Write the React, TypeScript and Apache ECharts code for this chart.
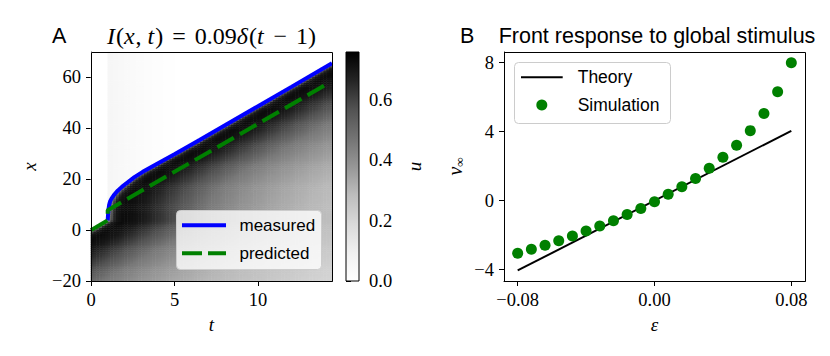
import React, { useEffect, useRef } from 'react';
import * as echarts from 'echarts';

// ---------------- Panel A: front trajectory ----------------
const measuredT = [1.0, 1.02, 1.05, 1.09, 1.15, 1.25, 1.4, 1.6, 1.85, 2.1, 2.6, 3.1, 4.1, 5.0, 6.5, 8.0, 10.0, 12.0, 14.43];
const measuredX = [3.8, 6.0, 8.3, 10.0, 11.4, 12.6, 14.0, 15.5, 17.0, 18.3, 20.8, 22.9, 26.6, 29.8, 35.4, 41.1, 48.7, 56.3, 65.6];
const predictedT = [0, 1.0, 1.0, 14.0];
const predictedX = [0, 3.8, 7.8, 56.9];

// field u(x,t): value vs. time since the front passed (read from the shading)
const ageTimes = [0, 0.15, 0.3, 0.5, 1, 2, 3, 4, 5, 6, 8, 10, 12, 15, 18, 22];
const ageU = [0.3, 0.5, 0.62, 0.7, 0.73, 0.7, 0.64, 0.58, 0.52, 0.46, 0.39, 0.34, 0.3, 0.26, 0.22, 0.18];
// faint stimulus band ahead of the front
const stimTimes = [0.99, 1.0, 2.0, 3.0, 4.0, 5.5];
const stimU = [0, 0.06, 0.04, 0.025, 0.012, 0];

const tTicks = [0, 5, 10];
const xTicks = [-20, 0, 20, 40, 60];
const uTicks = [0, 0.2, 0.4, 0.6];
const legendA = ['measured', 'predicted'];

// ---------------- Panel B ----------------
const epsValues = [-0.08, -0.072, -0.064, -0.056, -0.048, -0.04, -0.032, -0.024, -0.016, -0.008, 0,
  0.008, 0.016, 0.024, 0.032, 0.04, 0.048, 0.056, 0.064, 0.072, 0.08];
const simValues = [-3.05, -2.82, -2.59, -2.32, -2.05, -1.76, -1.47, -1.16, -0.81, -0.46, -0.06,
  0.37, 0.81, 1.29, 1.88, 2.51, 3.21, 4.06, 5.06, 6.32, 8.0];
const theoryEps = [-0.08, 0.08];
const theoryValues = [-4.05, 4.05];
const epsTicks = [-0.08, 0, 0.08];
const nuTicks = [-4, 0, 4, 8];
const legendB = ['Theory', 'Simulation'];

const T_MAX = 14.43;
const X_MIN = -20;
const X_MAX = 70;
const U_MAX = 0.76;
const N_T = 86;
const N_X = 120;
const SUB = 2;
const FRONT_PAD = 0.3; // shading edge tucked under the blue line

const greys = ['#ffffff', '#f0f0f0', '#d9d9d9', '#bdbdbd', '#969696', '#737373', '#525252', '#252525', '#000000'];
const SERIF = "'Liberation Serif', 'DejaVu Serif', serif";
const SANS = "'Liberation Sans', Arial, sans-serif";
const BLUE = '#0000ff';
const GREEN = '#008000';
const DASH = [19, 7];

function interp(xs: number[], ys: number[], x: number): number {
  if (x <= xs[0]) return ys[0];
  if (x >= xs[xs.length - 1]) return ys[ys.length - 1];
  for (let k = 0; k < xs.length - 1; k++) {
    if (x >= xs[k] && x <= xs[k + 1]) {
      const d = xs[k + 1] - xs[k];
      if (d === 0) return ys[k + 1];
      return ys[k] + (ys[k + 1] - ys[k]) * (x - xs[k]) / d;
    }
  }
  return ys[ys.length - 1];
}

function frontAt(t: number): number {
  if (t < measuredT[0]) return interp(predictedT.slice(0, 2), predictedX.slice(0, 2), t);
  return interp(measuredT, measuredX, t);
}

function crossTime(x: number): number {
  const x0 = predictedX[1];
  if (x <= x0) return x / (predictedX[1] / predictedT[1]);
  if (x > measuredX[measuredX.length - 1]) return Infinity;
  return interp(measuredX, measuredT, x);
}

function fieldAt(t: number, x: number): number {
  if (x > frontAt(t) + FRONT_PAD) return t < stimTimes[0] ? 0 : interp(stimTimes, stimU, t);
  const age = t - crossTime(x);
  return interp(ageTimes, ageU, Math.max(0, age));
}

function buildField(): number[][] {
  const out: number[][] = [];
  const dt = T_MAX / N_T;
  const dx = (X_MAX - X_MIN) / N_X;
  for (let i = 0; i < N_T; i++) {
    for (let j = 0; j < N_X; j++) {
      let s = 0;
      for (let a = 0; a < SUB; a++) {
        for (let b = 0; b < SUB; b++) {
          const t = (i + (a + 0.5) / SUB) * dt;
          const x = X_MIN + (j + (b + 0.5) / SUB) * dx;
          s += fieldAt(t, x);
        }
      }
      out.push([i, j, s / (SUB * SUB)]);
    }
  }
  return out;
}

const minus = (s: string) => s.replace('-', '\u2212');

const tickLabel = { fontFamily: SERIF, fontSize: 18.5, color: '#000' };
const nameStyle = { fontFamily: SERIF, fontSize: 19, fontStyle: 'italic', color: '#000' };
const axisLineStyle = { show: true, onZero: false, lineStyle: { color: '#000', width: 1 } };

export default function App() {
  const ref = useRef<HTMLDivElement>(null);
  useEffect(() => {
    if (!ref.current) return;
    const chart = echarts.init(ref.current, undefined, { renderer: 'svg' });
    const gridA = { left: 91, top: 52, width: 241, height: 229 };
    const gridC = { left: 346, top: 52, width: 13, height: 229 };
    const gridB = { left: 504, top: 52, width: 301, height: 229 };

    const tickCfg = (vals: number[]) => ({ show: true, length: 5, customValues: vals, lineStyle: { color: '#000', width: 1 } });
    const legendText = (text: string, x: number, y: number, size: number) => ({
      type: 'text', x, y, silent: true, z: 111,
      style: { text, fontFamily: SANS, fontSize: size, fill: '#000', align: 'left', verticalAlign: 'middle' },
    });

    const option: any = {
      animation: false,
      backgroundColor: '#ffffff',
      grid: [
        { ...gridA, show: false },
        { ...gridA, show: false },
        { ...gridC, show: false },
        { ...gridB, show: false },
      ],
      xAxis: [
        { gridIndex: 0, type: 'category', data: Array.from({ length: N_T }, (_, i) => String(i)), show: false, boundaryGap: true },
        {
          gridIndex: 1, type: 'value', min: 0, max: T_MAX, name: 't', nameLocation: 'middle', nameGap: 34,
          nameTextStyle: nameStyle, axisLine: axisLineStyle, axisTick: tickCfg(tTicks), splitLine: { show: false },
          axisLabel: { ...tickLabel, margin: 9, customValues: tTicks, formatter: (v: number) => minus(String(v)) },
        },
        { gridIndex: 2, type: 'value', min: 0, max: 1, show: false },
        {
          gridIndex: 3, type: 'value', min: -0.088, max: 0.088, name: 'ε', nameLocation: 'middle', nameGap: 34,
          nameTextStyle: nameStyle, axisLine: axisLineStyle, axisTick: tickCfg(epsTicks), splitLine: { show: false },
          axisLabel: { ...tickLabel, margin: 9, customValues: epsTicks, formatter: (v: number) => minus(v.toFixed(2)) },
        },
      ],
      yAxis: [
        { gridIndex: 0, type: 'category', data: Array.from({ length: N_X }, (_, j) => String(j)), show: false, boundaryGap: true },
        {
          gridIndex: 1, type: 'value', min: X_MIN, max: X_MAX, name: 'x', nameLocation: 'middle', nameGap: 52,
          nameTextStyle: nameStyle, axisLine: axisLineStyle, axisTick: tickCfg(xTicks), splitLine: { show: false },
          axisLabel: { ...tickLabel, margin: 10, customValues: xTicks, formatter: (v: number) => minus(String(v)) },
        },
        {
          gridIndex: 2, type: 'value', position: 'right', min: 0, max: U_MAX, name: 'u', nameLocation: 'middle', nameGap: 46,
          nameRotate: 90, nameTextStyle: nameStyle, axisLine: { show: false }, axisTick: tickCfg(uTicks), splitLine: { show: false },
          axisLabel: { ...tickLabel, margin: 10, customValues: uTicks, formatter: (v: number) => v.toFixed(1) },
        },
        {
          gridIndex: 3, type: 'value', min: -4.66, max: 8.62, name: '{n|ν}{s|∞}', nameLocation: 'middle', nameGap: 38,
          nameTextStyle: {
            ...nameStyle,
            rich: {
              n: { fontFamily: SERIF, fontSize: 20, fontStyle: 'italic', color: '#000' },
              s: { fontFamily: SERIF, fontSize: 13, color: '#000', padding: [9, 0, 0, 0] },
            },
          },
          axisLine: axisLineStyle, axisTick: tickCfg(nuTicks), splitLine: { show: false },
          axisLabel: { ...tickLabel, margin: 10, customValues: nuTicks, formatter: (v: number) => minus(String(v)) },
        },
      ],
      visualMap: {
        type: 'continuous', min: 0, max: U_MAX, seriesIndex: 0, show: false,
        inRange: { color: greys },
      },
      graphic: [
        {
          type: 'rect', z: 100, silent: true,
          shape: { x: gridC.left, y: gridC.top, width: gridC.width, height: gridC.height },
          style: {
            fill: {
              type: 'linear', x: 0, y: 1, x2: 0, y2: 0,
              colorStops: greys.map((c, k) => ({ offset: k / (greys.length - 1), color: c })),
            },
            stroke: '#000', lineWidth: 1,
          },
        },
        {
          type: 'rect', z: 100, silent: true,
          shape: { x: gridA.left + 0.5, y: gridA.top + 0.5, width: gridA.width, height: gridA.height },
          style: { fill: 'none', stroke: '#000', lineWidth: 1 },
        },
        {
          type: 'rect', z: 100, silent: true,
          shape: { x: gridB.left + 0.5, y: gridB.top + 0.5, width: gridB.width, height: gridB.height },
          style: { fill: 'none', stroke: '#000', lineWidth: 1 },
        },
        // legend A
        {
          type: 'rect', z: 110, silent: true,
          shape: { x: 176.5, y: 210.5, width: 145, height: 59, r: 4 },
          style: { fill: 'rgba(255,255,255,0.8)', stroke: '#cccccc', lineWidth: 1 },
        },
        {
          type: 'line', z: 111, silent: true, shape: { x1: 182, y1: 225.3, x2: 226, y2: 225.3 },
          style: { stroke: BLUE, lineWidth: 4 },
        },
        legendText(legendA[0], 239.5, 225.3, 17),
        {
          type: 'line', z: 111, silent: true, shape: { x1: 182, y1: 253.3, x2: 226, y2: 253.3 },
          style: { stroke: GREEN, lineWidth: 4, lineDash: [20, 6] },
        },
        legendText(legendA[1], 239.5, 253.3, 17),
        // legend B
        {
          type: 'rect', z: 110, silent: true,
          shape: { x: 514.5, y: 62.5, width: 156, height: 61, r: 4 },
          style: { fill: 'rgba(255,255,255,0.8)', stroke: '#cccccc', lineWidth: 1 },
        },
        {
          type: 'line', z: 111, silent: true, shape: { x1: 521, y1: 77.3, x2: 562.7, y2: 77.3 },
          style: { stroke: '#000', lineWidth: 2 },
        },
        legendText(legendB[0], 577.7, 77.3, 17.5),
        {
          type: 'circle', z: 111, silent: true, shape: { cx: 541.8, cy: 105, r: 5.5 },
          style: { fill: GREEN },
        },
        legendText(legendB[1], 577.7, 105, 17.5),
        // titles
        {
          type: 'text', x: 52, y: 36, silent: true,
          style: { text: 'A', fontFamily: SANS, fontSize: 21.5, fill: '#000', align: 'left', verticalAlign: 'middle' },
        },
        {
          type: 'text', x: 211.5, y: 36, silent: true,
          style: {
            text: '{i|I}{n|(}{i|x}{n|, }{i|t}{n|)}{o|=}{n|0.09}{i|δ}{n|(}{i|t}{o|−}{n|1)}',
            fontFamily: SERIF, fontSize: 24, fill: '#000', align: 'center', verticalAlign: 'middle',
            rich: {
              i: { fontFamily: SERIF, fontSize: 24, fontStyle: 'italic', fill: '#000', padding: [0, 1, 0, 0] },
              n: { fontFamily: SERIF, fontSize: 24, fill: '#000' },
              o: { fontFamily: SERIF, fontSize: 24, fill: '#000', padding: [0, 9, 0, 9] },
            },
          },
        },
        {
          type: 'text', x: 460, y: 36, silent: true,
          style: { text: 'B', fontFamily: SANS, fontSize: 21.5, fill: '#000', align: 'left', verticalAlign: 'middle' },
        },
        {
          type: 'text', x: 657, y: 36, silent: true,
          style: { text: 'Front response to global stimulus', fontFamily: SANS, fontSize: 21.5, fill: '#000', align: 'center', verticalAlign: 'middle' },
        },
      ],
      series: [
        {
          type: 'heatmap', xAxisIndex: 0, yAxisIndex: 0, data: buildField(), progressive: 0, silent: true,
          emphasis: { disabled: true },
        },
        {
          name: legendA[0], type: 'line', xAxisIndex: 1, yAxisIndex: 1, symbol: 'none', z: 3,
          data: measuredT.map((t, k) => [t, measuredX[k]]),
          lineStyle: { color: BLUE, width: 4 }, itemStyle: { color: BLUE },
        },
        {
          name: legendA[1], type: 'line', xAxisIndex: 1, yAxisIndex: 1, symbol: 'none', z: 4,
          data: predictedT.map((t, k) => [t, predictedX[k]]),
          lineStyle: { color: GREEN, width: 4, type: DASH }, itemStyle: { color: GREEN },
        },
        {
          name: legendB[0], type: 'line', xAxisIndex: 3, yAxisIndex: 3, symbol: 'none', z: 3,
          data: theoryEps.map((e, k) => [e, theoryValues[k]]),
          lineStyle: { color: '#000', width: 2 }, itemStyle: { color: '#000' },
        },
        {
          name: legendB[1], type: 'scatter', xAxisIndex: 3, yAxisIndex: 3, symbol: 'circle', symbolSize: 11, z: 4,
          data: epsValues.map((e, k) => [e, simValues[k]]),
          itemStyle: { color: GREEN, opacity: 1 },
        },
      ],
    };
    chart.setOption(option);
    return () => chart.dispose();
  }, []);
  return <div ref={ref} style={{ position: 'absolute', left: 0, top: 0, width: 830, height: 356 }} />;
}
